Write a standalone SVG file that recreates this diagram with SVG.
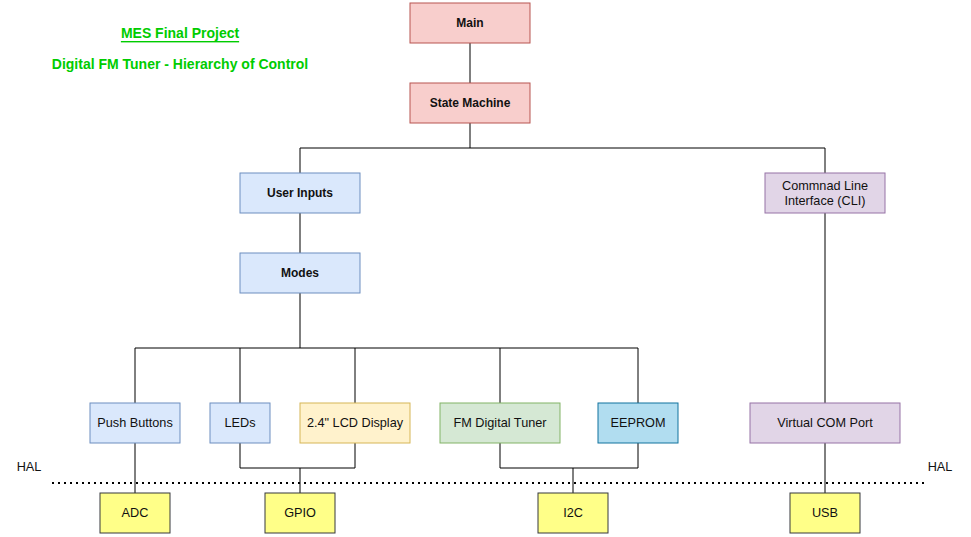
<svg xmlns="http://www.w3.org/2000/svg" width="971" height="537" viewBox="0 0 971 537">
<style>
text{font-family:"Liberation Sans",Arial,sans-serif;font-size:12.7px;fill:#111;text-anchor:middle;dominant-baseline:central}
.n rect{stroke-width:1}
.red rect{fill:#f8cecc;stroke:#b85450}
.blue rect{fill:#dae8fc;stroke:#6c8ebf}
.purple rect{fill:#e1d5e7;stroke:#9673a6}
.yel rect{fill:#fff2cc;stroke:#d6b656}
.grn rect{fill:#d5e8d4;stroke:#82b366}
.cyan rect{fill:#b1ddf0;stroke:#10739e}
.hal rect{fill:#ffff88;stroke:#36393d}
.b text{font-weight:bold;font-size:12px}
.title{fill:#00cc00;font-weight:bold;font-size:14px}
#connectors path{fill:none;stroke:#000;stroke-width:1}
</style>
<rect width="971" height="537" fill="#fff"/>
<g id="title">
<text class="title" x="180" y="33" text-decoration="underline">MES Final Project</text>
<text class="title" x="180" y="64">Digital FM Tuner - Hierarchy of Control</text>
</g>
<g id="connectors">
<path d="M470 43V83"/>
<path d="M470 123V148"/>
<path d="M300 173V148H825V173"/>
<path d="M300 213V253"/>
<path d="M300 293V348"/>
<path d="M135 403V348H638V403"/>
<path d="M240 348V403M355 348V403M500 348V403"/>
<path d="M825 213V403"/>
<path d="M825 443V493"/>
<path d="M135 443V493"/>
<path d="M240 443V468H355V443M300 468V493"/>
<path d="M500 443V468H638V443M573 468V493"/>
</g>
<g id="hal-line">
<line x1="52" y1="483" x2="926" y2="483" stroke="#000" stroke-width="2" stroke-dasharray="2 4"/>
<text x="29" y="467">HAL</text>
<text x="940" y="467">HAL</text>
</g>
<g id="main" class="n red b"><rect x="410" y="3" width="120" height="40"/><text x="470" y="23">Main</text></g>
<g id="state-machine" class="n red b"><rect x="410" y="83" width="120" height="40"/><text x="470" y="103">State Machine</text></g>
<g id="user-inputs" class="n blue b"><rect x="240" y="173" width="120" height="40"/><text x="300" y="193">User Inputs</text></g>
<g id="modes" class="n blue b"><rect x="240" y="253" width="120" height="40"/><text x="300" y="273">Modes</text></g>
<g id="cli" class="n purple"><rect x="765" y="173" width="120" height="40"/><text x="825" y="186">Commnad Line</text><text x="825" y="201">Interface (CLI)</text></g>
<g id="push-buttons" class="n blue"><rect x="90" y="403" width="90" height="40"/><text x="135" y="423">Push Buttons</text></g>
<g id="leds" class="n blue"><rect x="210" y="403" width="60" height="40"/><text x="240" y="423">LEDs</text></g>
<g id="lcd" class="n yel"><rect x="300" y="403" width="110" height="40"/><text x="355" y="423">2.4" LCD Display</text></g>
<g id="fm-tuner" class="n grn"><rect x="440" y="403" width="120" height="40"/><text x="500" y="423">FM Digital Tuner</text></g>
<g id="eeprom" class="n cyan"><rect x="598" y="403" width="80" height="40"/><text x="638" y="423">EEPROM</text></g>
<g id="vcp" class="n purple"><rect x="750" y="403" width="150" height="40"/><text x="825" y="423">Virtual COM Port</text></g>
<g id="adc" class="n hal"><rect x="100" y="493" width="70" height="40"/><text x="135" y="513">ADC</text></g>
<g id="gpio" class="n hal"><rect x="265" y="493" width="70" height="40"/><text x="300" y="513">GPIO</text></g>
<g id="i2c" class="n hal"><rect x="538" y="493" width="70" height="40"/><text x="573" y="513">I2C</text></g>
<g id="usb" class="n hal"><rect x="790" y="493" width="70" height="40"/><text x="825" y="513">USB</text></g>
</svg>
